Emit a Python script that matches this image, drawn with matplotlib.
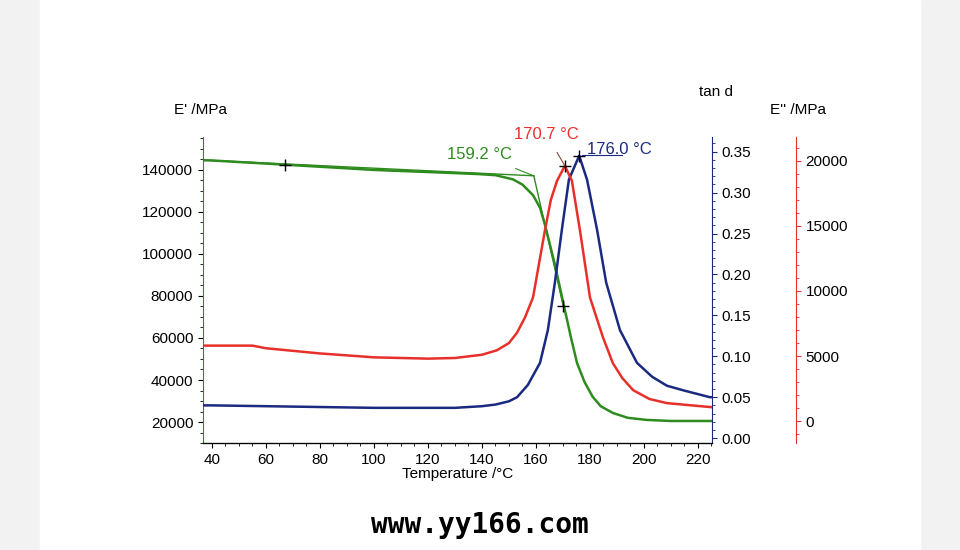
import matplotlib
matplotlib.use("Agg")
import matplotlib.pyplot as plt
from matplotlib.patches import Rectangle
from matplotlib.ticker import MultipleLocator

plt.rcParams['font.family'] = ['Liberation Sans', 'DejaVu Sans']

# E' (green), MPa
t_e1 = [37, 40, 67, 100, 130, 139, 145, 151.5, 155, 158.9, 161.5, 163.3, 167, 170.4, 173, 175.2, 178, 181, 184, 188.5,
        194, 201, 210, 225]
e1 = [144600, 144500, 142500, 140000, 138500, 138000, 137500, 135500, 133000, 128000, 122000, 114000, 95000, 75000, 60000,
      48100, 39000, 32000, 27500, 24300, 22000, 21000, 20500, 20500]
# E'' (red), MPa
t_e2 = [37, 40, 55, 60, 80, 100, 120, 130, 140, 145.5, 150, 153, 156, 158.9, 163.3, 165.5, 167.8, 170.7, 173.3, 176.3,
        180, 184.8, 188.5, 192, 196, 202, 208.5, 225]
e2 = [5800, 5800, 5800, 5600, 5200, 4900, 4800, 4850, 5100, 5440, 6000, 6800, 8000, 9500, 14640, 17000, 18470, 19620, 18470,
      14640, 9500, 6440, 4440, 3300, 2375, 1700, 1380, 1070]
# tan d (blue)
t_td = [37, 40, 60, 100, 130, 140, 145, 150, 153, 157, 161.5, 164.4, 167, 169.6, 172.2, 176, 178.9, 182.6, 186, 191.1,
        197.4, 203, 208.5, 215, 224.4, 225]
tand = [0.040, 0.040, 0.039, 0.037, 0.037, 0.039, 0.041, 0.045, 0.050, 0.065, 0.092, 0.132, 0.19, 0.255, 0.316, 0.345,
        0.316, 0.255, 0.19, 0.132, 0.092, 0.075, 0.064, 0.058, 0.050, 0.050]

GREEN, RED, BLUE = "#2e8b1e", "#e8302a", "#1a2a80"

fig = plt.figure(figsize=(9.6, 5.5), dpi=100, facecolor="#f2f2f2")
fig.patches.append(Rectangle((40 / 960, 0), 880 / 960, 1, transform=fig.transFigure, color="white", zorder=-5))
ax = fig.add_axes([0.2115, 0.1945, 0.5302, 0.5565])
ax.patch.set_alpha(0)
ax2 = ax.twinx()
ax3 = ax.twinx()
ax3.spines["right"].set_position(("axes", 1.165))

ax.plot(t_e1, e1, color=GREEN, lw=1.8)
ax.plot([37, 159.2], [144700, 137200], color=GREEN, lw=1)
ax.plot([159.2, 170.5], [137200, 73000], color=GREEN, lw=1)
ax.plot([67], [142500], "k+", ms=8)
ax.plot([170], [75000], "k+", ms=8)
ax3.plot(t_e2, e2, color=RED, lw=1.8)
ax3.plot([170.7], [19620], "k+", ms=8)
ax2.plot(t_td, tand, color=BLUE, lw=1.8)
ax2.plot([176], [0.345], "k+", ms=8)

ax.set_xlim(36.7, 225.2)
ax.set_ylim(10000, 155700)
ax2.set_ylim(-0.006, 0.368)
ax3.set_ylim(-1686, 21840)
ax.xaxis.set_major_locator(MultipleLocator(20))
ax.xaxis.set_minor_locator(MultipleLocator(5))
ax.yaxis.set_major_locator(MultipleLocator(20000))
ax.yaxis.set_minor_locator(MultipleLocator(5000))
ax2.yaxis.set_major_locator(MultipleLocator(0.05))
ax2.yaxis.set_minor_locator(MultipleLocator(0.01))
ax3.yaxis.set_major_locator(MultipleLocator(5000))
ax3.yaxis.set_minor_locator(MultipleLocator(1000))
ax2.yaxis.set_major_formatter(lambda v, p: f"{v:.2f}")

for a in (ax, ax2, ax3):
    a.spines["top"].set_visible(False)
    a.tick_params(labelsize=11)
ax.spines["left"].set_color(GREEN)
ax.spines["right"].set_visible(False)
ax2.spines["left"].set_visible(False)
ax3.spines["left"].set_visible(False)
ax2.spines["right"].set_color(BLUE)
ax3.spines["right"].set_color(RED)
ax2.tick_params(axis="y", which="both", colors=BLUE, labelcolor="black")
ax3.tick_params(axis="y", which="both", colors=RED, labelcolor="black")
ax.set_xlabel("Temperature /°C", fontsize=11, labelpad=0)

fig.text(200 / 960, 1 - 110 / 550, "E' /MPa", ha="center", va="center", fontsize=11)
fig.text(716 / 960, 1 - 92 / 550, "tan d", ha="center", va="center", fontsize=11)
fig.text(798 / 960, 1 - 110 / 550, "E'' /MPa", ha="center", va="center", fontsize=11)

ax.annotate("159.2 °C", xy=(159.2, 137200), xytext=(139, 147500), color=GREEN, fontsize=12, ha="center",
            va="center", arrowprops=dict(arrowstyle="-", color=GREEN, lw=0.8, shrinkA=8, shrinkB=0))
ax3.annotate("170.7 °C", xy=(170.7, 19620), xytext=(164, 22000), color=RED, fontsize=12, ha="center",
             va="center", annotation_clip=False, arrowprops=dict(arrowstyle="-", color="#8b4a3a", lw=0.8, shrinkA=6, shrinkB=0))
ax2.annotate("176.0 °C", xy=(176.5, 0.345), xytext=(191, 0.353), color=BLUE, fontsize=12, ha="center", va="center")
ax2.plot([177, 192], [0.346, 0.346], color=BLUE, lw=0.8)

fig.text(0.5, 1 - 525 / 550, "www.yy166.com", ha="center", va="center", fontsize=20, fontweight="bold",
         family="DejaVu Sans Mono")

fig.savefig("out.png", dpi=100, facecolor=fig.get_facecolor())
